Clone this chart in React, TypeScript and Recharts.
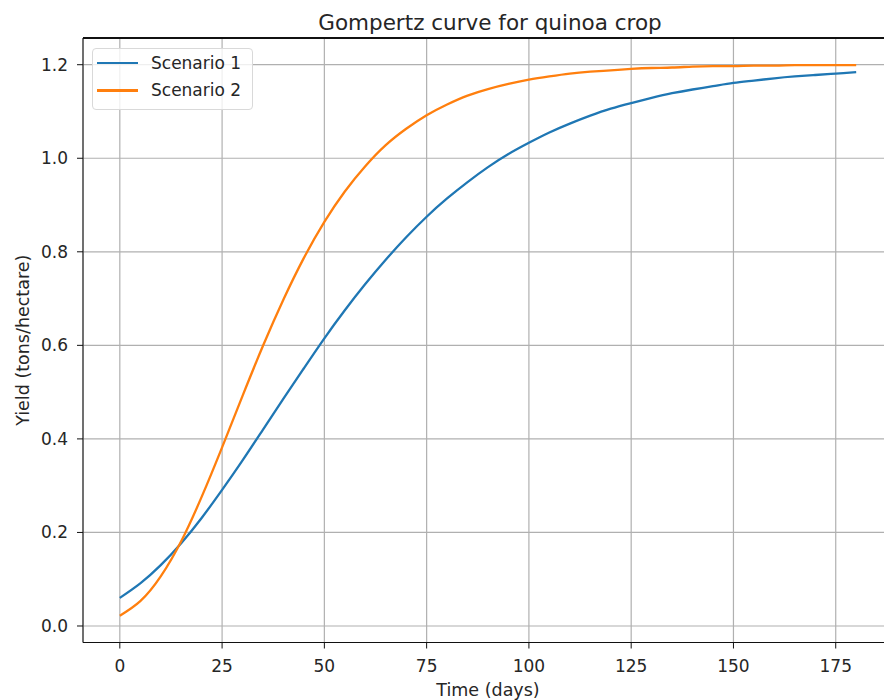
import { LineChart, Line, XAxis, YAxis, CartesianGrid, Legend } from 'recharts';

// days sampled every 5 from 0 to 180
const days = [
  0, 5, 10, 15, 20, 25, 30, 35, 40, 45, 50, 55, 60, 65, 70, 75, 80, 85, 90,
  95, 100, 105, 110, 115, 120, 125, 130, 135, 140, 145, 150, 155, 160, 165, 170, 175, 180,
];

// yield (tons/hectare)
const scenario1 = [
  0.060, 0.091, 0.130, 0.177, 0.231, 0.291, 0.354, 0.420, 0.486, 0.551, 0.615, 0.675,
  0.731, 0.783, 0.831, 0.875, 0.914, 0.949, 0.981, 1.009, 1.033, 1.055, 1.074, 1.091,
  1.106, 1.118, 1.129, 1.139, 1.147, 1.154, 1.161, 1.166, 1.171, 1.175, 1.178, 1.181, 1.184,
];

const scenario2 = [
  0.022, 0.053, 0.106, 0.181, 0.276, 0.382, 0.492, 0.599, 0.698, 0.787, 0.864, 0.929,
  0.983, 1.028, 1.063, 1.092, 1.115, 1.134, 1.148, 1.159, 1.168, 1.175, 1.181, 1.185,
  1.188, 1.191, 1.193, 1.194, 1.196, 1.197, 1.197, 1.198, 1.198, 1.199, 1.199, 1.199, 1.199,
];

const xTicks = [0, 25, 50, 75, 100, 125, 150, 175];
const yTicks = [0, 0.2, 0.4, 0.6, 0.8, 1.0, 1.2];
const X_DOMAIN = [-9, 189];
const Y_DOMAIN = [-0.0353, 1.2571];

const data = days.map((d, i) => ({ day: d, s1: scenario1[i], s2: scenario2[i] }));

const FONT = '"DejaVu Sans", sans-serif';
const TEXT = '#262626';

// layout (the plot runs past the right edge of the picture, like the original)
const CHART_W = 893;
const CHART_H = 700;
const MARGIN_TOP = 38;
const Y_AXIS_W = 83;
const X_AXIS_H = 57.5;

function LegendBox(props: any) {
  const items = props.payload || [];
  return (
    <div
      style={{
        position: 'relative',
        width: 161,
        height: 62,
        boxSizing: 'border-box',
        border: '1px solid #d9d9d9',
        borderRadius: 4,
        background: 'rgba(255,255,255,0.8)',
        fontFamily: FONT,
      }}
    >
      {items.map((it: any, i: number) => (
        <div key={it.value} style={{ position: 'absolute', left: 0, top: 14 + i * 27.3, height: 0 }}>
          <div style={{ position: 'absolute', left: 4, top: -1.2, width: 41, height: 2.4, background: it.color }} />
          <div
            style={{
              position: 'absolute',
              left: 58,
              top: -11,
              fontSize: 17,
              lineHeight: '22px',
              color: TEXT,
              whiteSpace: 'nowrap',
            }}
          >
            {it.value}
          </div>
        </div>
      ))}
    </div>
  );
}

export default function App() {
  return (
    <div
      style={{
        position: 'absolute',
        left: 0,
        top: 0,
        width: 884,
        height: 700,
        overflow: 'hidden',
        background: '#fff',
      }}
    >
      <LineChart
        width={CHART_W}
        height={CHART_H}
        data={data}
        margin={{ top: MARGIN_TOP, right: 0, bottom: 0, left: 0 }}
      >
        <text x={490} y={30} textAnchor="middle" fontFamily={FONT} fontSize={21.5} fill={TEXT}>
          Gompertz curve for quinoa crop
        </text>
        <CartesianGrid stroke="#b0b0b0" strokeWidth={1.2} />
        <XAxis
          dataKey="day"
          type="number"
          domain={X_DOMAIN}
          ticks={xTicks}
          allowDataOverflow
          height={X_AXIS_H}
          tickSize={6}
          tickMargin={11}
          stroke="#111"
          tick={{ fill: TEXT, fontSize: 17, fontFamily: FONT }}
          tickLine={{ stroke: '#111' }}
          label={{ value: 'Time (days)', position: 'insideBottom', offset: 4, fill: TEXT, fontSize: 17.5, fontFamily: FONT }}
        />
        <YAxis
          type="number"
          domain={Y_DOMAIN}
          ticks={yTicks}
          allowDataOverflow
          width={Y_AXIS_W}
          tickSize={6}
          tickMargin={9}
          stroke="#111"
          tickFormatter={(v: number) => v.toFixed(1)}
          tick={{ fill: TEXT, fontSize: 17, fontFamily: FONT }}
          tickLine={{ stroke: '#111' }}
          label={{
            value: 'Yield (tons/hectare)',
            angle: -90,
            position: 'insideLeft',
            offset: 23,
            style: { textAnchor: 'middle' },
            fill: TEXT,
            fontSize: 17.5,
            fontFamily: FONT,
          }}
        />
        <Legend
          layout="horizontal"
          align="center"
          verticalAlign="middle"
          content={<LegendBox />}
          wrapperStyle={{ left: 92, top: 48, width: 'auto', height: 'auto' }}
        />
        <Line
          type="natural"
          dataKey="s1"
          name="Scenario 1"
          stroke="#1f77b4"
          strokeWidth={2.3}
          dot={false}
          isAnimationActive={false}
        />
        <Line
          type="natural"
          dataKey="s2"
          name="Scenario 2"
          stroke="#ff7f0e"
          strokeWidth={2.3}
          dot={false}
          isAnimationActive={false}
        />
      </LineChart>
      {/* top spine of the axes frame, laid over the chart */}
      <div
        style={{
          position: 'absolute',
          left: Y_AXIS_W,
          top: MARGIN_TOP - 0.65,
          width: CHART_W - Y_AXIS_W,
          height: 1.3,
          background: '#111',
          zIndex: 2,
          pointerEvents: 'none',
        }}
      />
    </div>
  );
}
